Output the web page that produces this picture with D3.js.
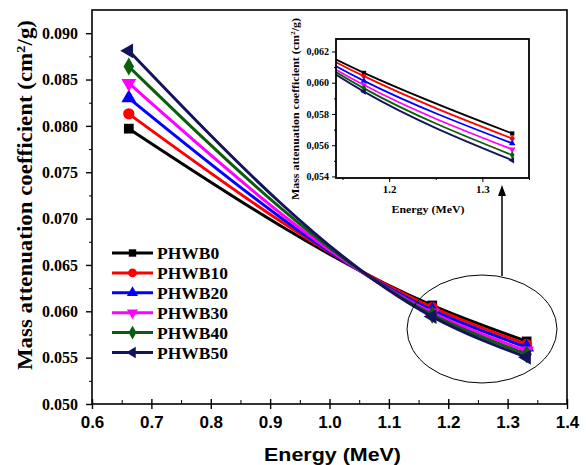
<!DOCTYPE html>
<html>
<head>
<meta charset="utf-8">
<script src="https://cdn.jsdelivr.net/npm/d3@7"></script>
<style>
  body { margin: 0; background: #fff; }
  svg { display: block; }
</style>
</head>
<body>
<script>
// Data
let energy = [0.662, 1.173, 1.332];
let seriesNames = ["PHWB0", "PHWB10", "PHWB20", "PHWB30", "PHWB40", "PHWB50"];
let PHWB0  = [0.0797, 0.06063, 0.05675];
let PHWB10 = [0.0813, 0.06042, 0.05643];
let PHWB20 = [0.0830, 0.06012, 0.05612];
let PHWB30 = [0.0846, 0.05985, 0.05573];
let PHWB40 = [0.0864, 0.05964, 0.05537];
let PHWB50 = [0.0881, 0.05943, 0.05504];
let xTicks = [0.6, 0.7, 0.8, 0.9, 1.0, 1.1, 1.2, 1.3, 1.4];
let yTicks = [0.050, 0.055, 0.060, 0.065, 0.070, 0.075, 0.080, 0.085, 0.090];
let insetXTicks = [1.2, 1.3];
let insetYTicks = [0.054, 0.056, 0.058, 0.060, 0.062];

let colors = ["#000000", "#ff0000", "#0000ff", "#ff00ff", "#0b5e0b", "#14145c"];
let symbols = [d3.symbolSquare, d3.symbolCircle, d3.symbolTriangle, d3.symbolTriangle, d3.symbolDiamond, d3.symbolTriangle];
let rotations = [0, 0, 0, 180, 0, -90];

let allValues = [PHWB0, PHWB10, PHWB20, PHWB30, PHWB40, PHWB50];
let series = seriesNames.map((name, i) => ({
  name: name,
  color: colors[i],
  symbol: symbols[i],
  rot: rotations[i],
  points: energy.map((e, j) => ({ x: e, y: allValues[i][j] }))
}));

let W = 586, H = 465;
let svg = d3.select("body").append("svg").attr("width", W).attr("height", H);

// Main plot area
let pLeft = 92, pRight = 567, pTop = 10, pBottom = 404;
let x = d3.scaleLinear().domain([0.6, 1.4]).range([pLeft, pRight]);
let y = d3.scaleLinear().domain([0.05, 0.0925]).range([pBottom, pTop]);

// Frame
svg.append("rect")
  .attr("x", pLeft).attr("y", pTop)
  .attr("width", pRight - pLeft).attr("height", pBottom - pTop)
  .attr("fill", "none").attr("stroke", "#000").attr("stroke-width", 1.6);

// X axis
let xAxis = svg.append("g").attr("transform", "translate(0," + pBottom + ")");
xAxis.call(d3.axisBottom(x).tickValues(d3.range(0.65, 1.4, 0.1)).tickSize(-4).tickFormat(""))
  .call(g => g.select(".domain").remove());
xAxis.append("g")
  .call(d3.axisBottom(x).tickValues(xTicks).tickSizeInner(5).tickSizeOuter(0).tickFormat(d3.format(".1f")))
  .call(g => g.select(".domain").remove())
  .call(g => g.selectAll("line").attr("y1", -5).attr("stroke-width", 1.4))
  .call(g => g.selectAll("text")
    .attr("y", 12)
    .style("font-family", "Liberation Sans, Arial, sans-serif")
    .style("font-weight", "bold")
    .style("font-size", "17px")
    .attr("fill", "#000"));

// Y axis
let yAxis = svg.append("g").attr("transform", "translate(" + pLeft + ",0)");
yAxis.call(d3.axisLeft(y).tickValues(d3.range(0.0525, 0.09, 0.005)).tickSize(3).tickFormat(""))
  .call(g => g.select(".domain").remove());
yAxis.append("g")
  .call(d3.axisLeft(y).tickValues(yTicks).tickSizeInner(6).tickSizeOuter(0).tickFormat(d3.format(".3f")))
  .call(g => g.select(".domain").remove())
  .call(g => g.selectAll("line").attr("stroke-width", 1.4))
  .call(g => g.selectAll("text")
    .attr("x", -14)
    .style("font-family", "Liberation Serif, Times New Roman, serif")
    .style("font-weight", "bold")
    .style("font-size", "16px")
    .attr("fill", "#000"));

// Axis labels
svg.append("text")
  .attr("x", (pLeft + pRight) / 2 + 3)
  .attr("y", 461)
  .attr("text-anchor", "middle")
  .attr("textLength", 137)
  .attr("lengthAdjust", "spacingAndGlyphs")
  .style("font-family", "Liberation Sans, Arial, sans-serif")
  .style("font-weight", "bold")
  .style("font-size", "18px")
  .text("Energy (MeV)");

let yLab = svg.append("text")
  .attr("transform", "translate(32,195) rotate(-90)")
  .attr("text-anchor", "middle")
  .attr("textLength", 350)
  .attr("lengthAdjust", "spacingAndGlyphs")
  .style("font-family", "Liberation Serif, Times New Roman, serif")
  .style("font-weight", "bold")
  .style("font-size", "20px");
yLab.append("tspan").text("Mass attenuation coefficient (cm");
yLab.append("tspan").attr("dy", -7).style("font-size", "13px").text("2");
yLab.append("tspan").attr("dy", 7).text("/g)");

// Lines and markers (smooth connection, as in the original)
let line = d3.line().x(d => x(d.x)).y(d => y(d.y)).curve(d3.curveMonotoneX);
let sym = d3.symbol();

series.forEach(s => {
  svg.append("path")
    .datum(s.points)
    .attr("d", line)
    .attr("fill", "none")
    .attr("stroke", s.color)
    .attr("stroke-width", 3);
  svg.selectAll(null)
    .data(s.points).enter()
    .append("path")
      .attr("d", sym.type(s.symbol).size(s.symbol === d3.symbolCircle ? 100 : 95)())
      .attr("transform", d => "translate(" + x(d.x) + "," + y(d.y) + ") rotate(" + s.rot + ")")
      .attr("fill", s.color);
});

// Ellipse and arrow
svg.append("ellipse")
  .attr("cx", 482).attr("cy", 329)
  .attr("rx", 75).attr("ry", 54)
  .attr("fill", "none").attr("stroke", "#000").attr("stroke-width", 1);

svg.append("line")
  .attr("x1", 502).attr("y1", 276)
  .attr("x2", 502).attr("y2", 194)
  .attr("stroke", "#000").attr("stroke-width", 1.5);
svg.append("path")
  .attr("d", "M502,185 L498,196 L506,196 Z")
  .attr("fill", "#000");

// Legend
let legend = svg.append("g");
series.forEach((s, i) => {
  let ly = 253 + i * 19.9;
  legend.append("line")
    .attr("x1", 112).attr("x2", 153)
    .attr("y1", ly).attr("y2", ly)
    .attr("stroke", s.color).attr("stroke-width", 3);
  legend.append("path")
    .attr("d", sym.type(s.symbol).size(s.symbol === d3.symbolCircle ? 60 : 55)())
    .attr("transform", "translate(132.5," + ly + ") rotate(" + s.rot + ")")
    .attr("fill", s.color);
  legend.append("text")
    .attr("x", 157).attr("y", ly + 6)
    .style("font-family", "Liberation Serif, Times New Roman, serif")
    .style("font-weight", "bold")
    .style("font-size", "17.5px")
    .text(s.name);
});

// Inset
let iLeft = 336, iRight = 529, iTop = 39, iBottom = 178;
let ix = d3.scaleLinear().domain([1.143, 1.35]).range([iLeft, iRight]);
let iy = d3.scaleLinear().domain([0.0539, 0.0628]).range([iBottom, iTop]);

let inset = svg.append("g");
inset.append("rect")
  .attr("x", iLeft).attr("y", iTop)
  .attr("width", iRight - iLeft).attr("height", iBottom - iTop)
  .attr("fill", "#fff");

inset.append("clipPath").attr("id", "iclip")
  .append("rect")
  .attr("x", iLeft).attr("y", iTop)
  .attr("width", iRight - iLeft).attr("height", iBottom - iTop);

let iline = d3.line().x(d => ix(d.x)).y(d => iy(d.y)).curve(d3.curveMonotoneX);
let plotG = inset.append("g").attr("clip-path", "url(#iclip)");
series.forEach(s => {
  plotG.append("path")
    .datum(s.points)
    .attr("d", iline)
    .attr("fill", "none")
    .attr("stroke", s.color)
    .attr("stroke-width", 1.8);
  plotG.selectAll(null)
    .data(s.points.filter(d => d.x > 1.1)).enter()
    .append("path")
      .attr("d", sym.type(s.symbol).size(18)())
      .attr("transform", d => "translate(" + ix(d.x) + "," + iy(d.y) + ") rotate(" + s.rot + ")")
      .attr("fill", s.color);
});

inset.append("rect")
  .attr("x", iLeft).attr("y", iTop)
  .attr("width", iRight - iLeft).attr("height", iBottom - iTop)
  .attr("fill", "none").attr("stroke", "#000").attr("stroke-width", 1.8);

let ixAxis = inset.append("g").attr("transform", "translate(0," + iBottom + ")");
ixAxis.call(d3.axisBottom(ix).tickValues([1.15, 1.25, 1.35]).tickSize(2).tickFormat(""))
  .call(g => g.select(".domain").remove());
ixAxis.append("g")
  .call(d3.axisBottom(ix).tickValues(insetXTicks).tickSizeInner(4).tickSizeOuter(0).tickFormat(d3.format(".1f")))
  .call(g => g.select(".domain").remove())
  .call(g => g.selectAll("text")
    .attr("y", 7)
    .style("font-family", "Liberation Serif, Times New Roman, serif")
    .style("font-weight", "bold")
    .style("font-size", "11px")
    .attr("fill", "#000"));

let iyAxis = inset.append("g").attr("transform", "translate(" + iLeft + ",0)");
iyAxis.call(d3.axisLeft(iy).tickValues([0.055, 0.057, 0.059, 0.061]).tickSize(2).tickFormat(""))
  .call(g => g.select(".domain").remove());
iyAxis.append("g")
  .call(d3.axisLeft(iy).tickValues(insetYTicks).tickSizeInner(4).tickSizeOuter(0)
    .tickFormat(d => d3.format(".3f")(d).replace(".", ",")))
  .call(g => g.select(".domain").remove())
  .call(g => g.selectAll("text")
    .attr("x", -7)
    .style("font-family", "Liberation Serif, Times New Roman, serif")
    .style("font-weight", "bold")
    .style("font-size", "10px")
    .attr("fill", "#000"));

inset.append("text")
  .attr("x", 428).attr("y", 213)
  .attr("text-anchor", "middle")
  .attr("textLength", 73)
  .attr("lengthAdjust", "spacingAndGlyphs")
  .style("font-family", "Liberation Serif, Times New Roman, serif")
  .style("font-weight", "bold")
  .style("font-size", "11px")
  .text("Energy (MeV)");

let iyLab = inset.append("text")
  .attr("transform", "translate(299,109) rotate(-90)")
  .attr("text-anchor", "middle")
  .attr("textLength", 182)
  .attr("lengthAdjust", "spacingAndGlyphs")
  .style("font-family", "Liberation Serif, Times New Roman, serif")
  .style("font-weight", "bold")
  .style("font-size", "11px");
iyLab.append("tspan").text("Mass attenuation coefficient (cm");
iyLab.append("tspan").attr("dy", -4).style("font-size", "7px").text("2");
iyLab.append("tspan").attr("dy", 4).text("/g)");
</script>
</body>
</html>
